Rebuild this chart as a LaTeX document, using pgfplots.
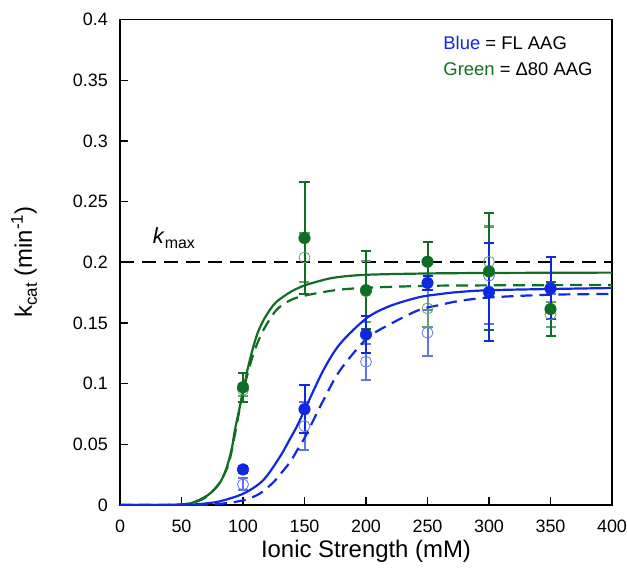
\documentclass[border=0pt]{standalone}
\usepackage{pgfplots}
\pgfplotsset{compat=1.18}
\usepackage{pgfplotstable}
\usepackage{fontspec}
\setmainfont{Liberation Sans}
\definecolor{fb}{RGB}{15,40,225}
\definecolor{fg}{RGB}{15,110,35}

\pgfplotstableread{
x y e
100 0.0293 0.003
150 0.079 0.020
200 0.1405 0.015
250 0.183 0.006
300 0.1755 0.040
350 0.1785 0.0255
}\blueFilled
\pgfplotstableread{
x y e
100 0.017 0.005
150 0.065 0.020
200 0.118 0.015
250 0.142 0.019
300 0.189 0.040
350 0.179 0.005
}\blueOpen
\pgfplotstableread{
x y e
100 0.097 0.012
150 0.220 0.046
200 0.177 0.032
250 0.2005 0.016
300 0.1925 0.048
350 0.1615 0.022
}\greenFilled
\pgfplotstableread{
x y e
100 0.095 0.005
150 0.204 0.020
200 0.176 0.025
250 0.162 0.015
300 0.2005 0.029
350 0.157 0.010
}\greenOpen

\pgfplotsset{
  ebar/.style={error bars/.cd, y dir=both, y explicit,
    error bar style={line width=2bp, solid, opacity=1},
    error mark options={line width=2bp, mark size=5bp, rotate=90, solid}},
}

\begin{document}
\begin{tikzpicture}
\begin{axis}[
  width=492bp, height=485.4bp, scale only axis,
  xmin=0, xmax=400, ymin=0, ymax=0.4,
  xtick={0,50,100,150,200,250,300,350,400},
  ytick={0,0.05,0.1,0.15,0.2,0.25,0.3,0.35,0.4},
  scaled y ticks=false,
  yticklabel style={/pgf/number format/fixed, /pgf/number format/precision=2},
  /pgf/number format/assume math mode=true,
  tick label style={font=\fontsize{18}{20}\selectfont},
  xticklabel style={anchor=base, yshift=-27bp, inner sep=0pt},
  yticklabel style={anchor=east, xshift=-12bp, inner sep=0pt},
  xtick pos=bottom, ytick pos=left,
  tick align=inside,
  major tick length=8bp,
  axis line style={line width=1.2bp},
  every tick/.style={line width=1.2bp, black},
  xlabel={Ionic Strength (mM)},
  xlabel style={at={(axis description cs:0.5,-0.109)}, anchor=base, inner sep=0pt, font=\fontsize{24}{26}\selectfont},
  ylabel={k\raisebox{-5bp}{\fontsize{17}{18}\selectfont cat} (min\raisebox{9bp}{\fontsize{17}{18}\selectfont -1})},
  ylabel style={at={(axis description cs:-0.195,0.5)}, anchor=center, rotate=0, inner sep=0pt, font=\fontsize{24}{26}\selectfont},
]
\coordinate (bl) at (rel axis cs:0,0);
\coordinate (tr) at (rel axis cs:1,1);

% k_max line
\addplot[black, line width=1.8bp, dash pattern=on 14bp off 8bp] coordinates {(0,0.2) (400,0.2)};

% open markers
\addplot[fb!65!white, only marks, mark=o, mark size=5.5bp, mark options={line width=0.8bp}, ebar]
  table[x=x, y=y, y error=e] {\blueOpen};
\addplot[fg!65!white, only marks, mark=o, mark size=5.5bp, mark options={line width=0.8bp}, ebar]
  table[x=x, y=y, y error=e] {\greenOpen};

% fitted curves
\addplot[fg, line width=2.2bp, smooth] coordinates {
(0,0) (40,0) (50,0.0004) (57,0.0013) (65,0.0045) (70.5,0.0075) (76,0.012) (81.3,0.0185) (85,0.026) (88,0.035) (91,0.047) (93.4,0.0616) (97,0.079) (100.8,0.097) (104,0.113) (108.3,0.130) (112,0.142) (116.5,0.152) (122,0.161) (127.3,0.1675) (138.5,0.1755) (148.9,0.1805) (160,0.184) (175,0.1875) (200,0.1897) (250,0.1908) (300,0.1912) (400,0.1915)};
\addplot[fg, line width=2.2bp, dash pattern=on 12bp off 7bp, smooth] coordinates {
(0,0) (40,0) (50,0.0004) (60,0.002) (70,0.0065) (80,0.017) (88,0.033) (93,0.056) (100,0.093) (108,0.123) (116,0.143) (127,0.1605) (138,0.1685) (150,0.1725) (175,0.177) (200,0.179) (250,0.1806) (300,0.181) (400,0.1813)};
\addplot[fb, line width=2.2bp, smooth] coordinates {
(0,0) (50,0.0002) (65,0.0008) (81,0.003) (100.8,0.0096) (116.5,0.0205) (130,0.0397) (138.5,0.055) (143.6,0.0643) (150.4,0.079) (165.3,0.111) (178.9,0.1328) (200.5,0.154) (219.5,0.164) (243,0.1712) (260,0.1738) (275,0.1755) (300,0.177) (350,0.178) (400,0.1788)};
\addplot[fb, line width=2.2bp, dash pattern=on 12bp off 7bp, smooth] coordinates {
(0,0) (60,0.0002) (80,0.0008) (100.8,0.004) (114,0.0096) (125,0.019) (130,0.025) (138,0.035) (144,0.045) (150.4,0.056) (165.3,0.0862) (178.9,0.111) (200.5,0.137) (219.5,0.149) (243,0.1607) (260,0.1648) (275,0.168) (300,0.171) (350,0.1733) (400,0.1739)};

% filled markers
\addplot[fg, only marks, mark=*, mark size=5.8bp, ebar]
  table[x=x, y=y, y error=e] {\greenFilled};
\addplot[fb, only marks, mark=*, mark size=5.8bp, ebar]
  table[x=x, y=y, y error=e] {\blueFilled};

% labels
\node[anchor=base west, inner sep=0pt, font=\fontsize{22}{24}\selectfont] at (axis cs:26.6,0.2151) {\textit{k}\raisebox{-5bp}{\fontsize{16}{18}\selectfont max}};
\node[anchor=base west, inner sep=0pt, font=\fontsize{18.5}{20}\selectfont] at (axis cs:262.8,0.375) {\textcolor{fb}{Blue} = FL AAG};
\node[anchor=base west, inner sep=0pt, font=\fontsize{18.5}{20}\selectfont] at (axis cs:262.8,0.3543) {\textcolor{fg}{Green} = Δ80 AAG};
\end{axis}
\pgfresetboundingbox
\path ([shift={(-120bp,-66bp)}]bl) rectangle ([shift={(15bp,19.6bp)}]tr);
\end{tikzpicture}
\end{document}
